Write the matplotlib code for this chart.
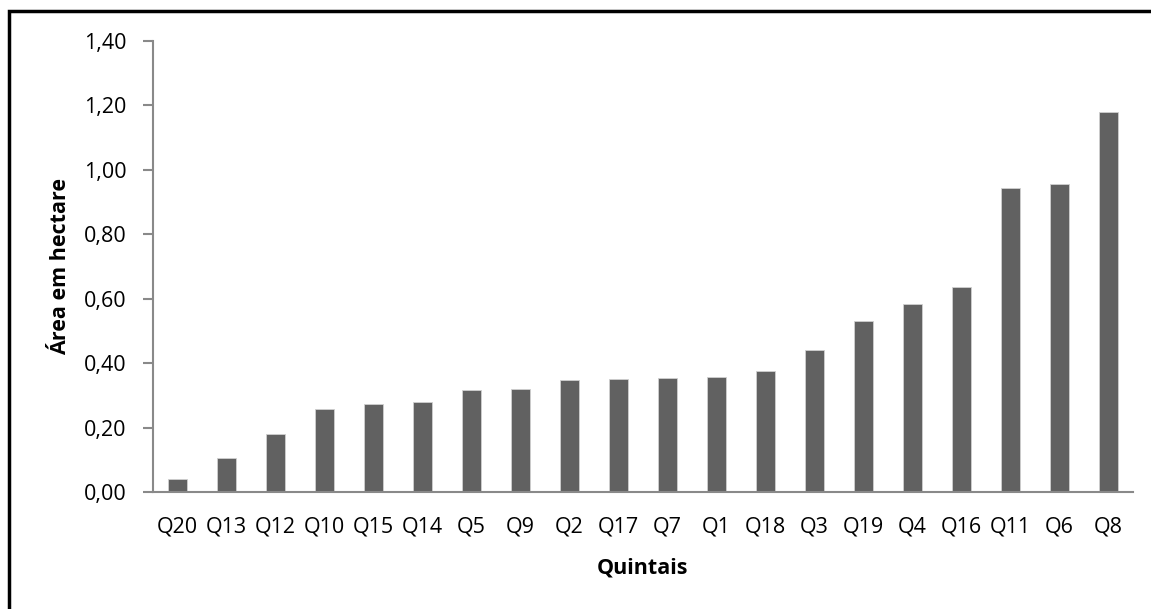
import matplotlib.pyplot as plt
from matplotlib.patches import Rectangle

# Dados (area em hectare por quintal)
quintais = ["Q20", "Q13", "Q12", "Q10", "Q15", "Q14", "Q5", "Q9", "Q2", "Q17",
            "Q7", "Q1", "Q18", "Q3", "Q19", "Q4", "Q16", "Q11", "Q6", "Q8"]
area = [0.04, 0.105, 0.179, 0.258, 0.274, 0.280, 0.315, 0.319, 0.346, 0.350,
        0.354, 0.358, 0.374, 0.439, 0.530, 0.582, 0.636, 0.944, 0.957, 1.179]
yticks = [0.0, 0.2, 0.4, 0.6, 0.8, 1.0, 1.2, 1.4]

plt.rcParams['font.family'] = ['Open Sans', 'DejaVu Sans']

fig = plt.figure(figsize=(11.51, 6.09), dpi=100)
ax = fig.add_axes([153/1151, 1 - 492/609, (1133 - 153)/1151, (492 - 40.7)/609])

x = range(len(quintais))
ax.bar(x, area, width=0.39, color='#616161', edgecolor='#d0d0d0', linewidth=0.6)

ax.set_xlim(-0.5, len(quintais) - 0.5)
ax.set_ylim(0, 1.4)
ax.set_yticks(yticks)
ax.set_yticklabels([("%.2f" % v).replace('.', ',') for v in yticks], fontsize=15.5)
ax.set_xticks(list(x))
ax.set_xticklabels(quintais, fontsize=15.5)

for s in ['top', 'right']:
    ax.spines[s].set_visible(False)
for s in ['left', 'bottom']:
    ax.spines[s].set_color('#898989')
    ax.spines[s].set_linewidth(1.5)
ax.tick_params(axis='y', length=7, width=1.5, color='#898989', pad=12)
ax.tick_params(axis='x', length=0, pad=18)

ax.set_ylabel("Área em hectare", fontsize=15.5, fontweight='bold', labelpad=9)
ax.set_xlabel("Quintais", fontsize=15.5, fontweight='bold', labelpad=14)

# moldura da figura (cortada em baixo e a direita)
fig.patches.append(Rectangle((8.5/1151, -0.1), 1.2, 1 - 11/609 + 0.1,
                             transform=fig.transFigure, fill=False,
                             edgecolor='black', linewidth=2.5))

plt.savefig("out.png", dpi=100)
